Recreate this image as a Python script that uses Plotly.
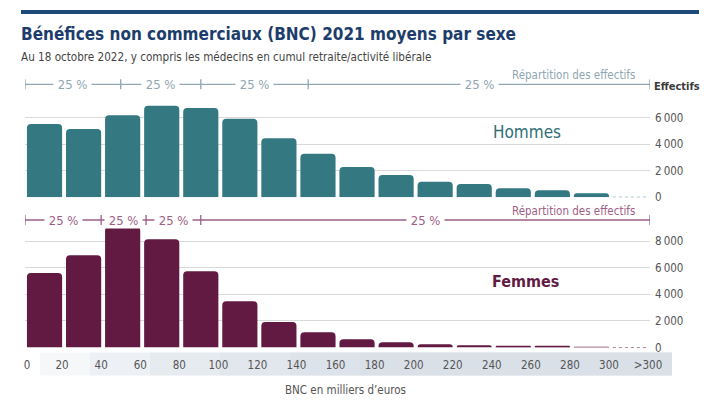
import plotly.graph_objects as go

# ---------------- data ----------------
tranches = ["0", "20", "40", "60", "80", "100", "120", "140", "160", "180",
            "200", "220", "240", "260", "280", "300", ">300"]
bin_centers = [10, 30, 50, 70, 90, 110, 130, 150, 170, 190, 210, 230, 250, 270, 290, 310]
hommes = [5530, 5150, 6190, 6890, 6720, 5910, 4450, 3290, 2290, 1680, 1180, 1000, 680, 530, 300, None]
femmes = [5600, 6930, 9080, 8140, 5730, 3470, 1920, 1140, 620, 400, 240, 160, 110, 80, 60, None]
tick_positions = [1, 19, 39, 59, 79, 99, 119, 139, 159, 179, 199, 219, 239, 259, 279, 299, 319]
# quartile limits (k€) of the distribution of headcounts
quartiles_hommes = [0, 49, 90, 145, 320]
quartiles_femmes = [0, 39, 62, 90, 320]

# ---------------- styles ----------------
FONT = "'DejaVu Sans Condensed', 'Liberation Sans Narrow', sans-serif"
TEAL = "#347882"
PURPLE = "#621a42"
GRID = "#d9d9d9"
OFF = 8                      # default page margin of the html body
W, H = 720 - OFF, 403 - OFF
BAR_W = 18

def px_x(p):
    return (p - OFF) / W

def px_y(p):
    return (H - (p - OFF)) / H

x_dom = [px_x(25), px_x(650)]

fig = go.Figure()

fig.add_trace(go.Bar(x=bin_centers, y=hommes, width=BAR_W, marker_color=TEAL,
                     marker_line_width=0, xaxis="x", yaxis="y", showlegend=False,
                     hoverinfo="x+y"))
fig.add_trace(go.Bar(x=bin_centers, y=femmes, width=BAR_W, marker_color=PURPLE,
                     marker_line_width=0, xaxis="x2", yaxis="y2", showlegend=False,
                     hoverinfo="x+y"))

# dotted baseline for the last (>300) bin
last = bin_centers[-1]
fig.add_trace(go.Scatter(x=[last - 10 + 1, last + 10 - 0.5], y=[0, 0], mode="lines",
                         line=dict(color=TEAL, width=1, dash="dot"),
                         xaxis="x", yaxis="y", showlegend=False, hoverinfo="skip"))
fig.add_trace(go.Scatter(x=[last - 10 + 1, last + 10 - 0.5], y=[0, 0], mode="lines",
                         line=dict(color=PURPLE, width=1, dash="dot"),
                         xaxis="x2", yaxis="y2", showlegend=False, hoverinfo="skip"))

shapes = []
annotations = []

def note(x, y, text, size, color, xanchor="center", xref="paper"):
    annotations.append(dict(x=x, y=y, xref=xref, yref="paper", text=text,
                            showarrow=False, xanchor=xanchor, yanchor="middle",
                            font=dict(family=FONT, size=size, color=color)))

# top navy rule
shapes.append(dict(type="line", xref="paper", yref="paper",
                   x0=px_x(21), x1=px_x(699), y0=px_y(12), y1=px_y(12),
                   line=dict(color="#1e4a78", width=4)))

# gradient band behind x tick labels
band_starts = [40, 90, 150, 220, 290, 360]
for s in band_starts:
    shapes.append(dict(type="rect", xref="paper", yref="paper",
                       x0=px_x(s), x1=px_x(672), y0=px_y(375.5), y1=px_y(352.5),
                       fillcolor="#cfd9e2", opacity=0.2, line_width=0, layer="below"))

# quartile brackets
def bracket(qs, ypx, color, xref):
    y = px_y(ypx)
    dy = 5 / H
    shapes.append(dict(type="line", xref=xref, yref="paper", x0=qs[0], x1=qs[-1],
                       y0=y, y1=y, line=dict(color=color, width=1.3)))
    for q in qs:
        shapes.append(dict(type="line", xref=xref, yref="paper", x0=q, x1=q,
                           y0=y - dy, y1=y + dy, line=dict(color=color, width=1.3)))
    for a, b in zip(qs[:-1], qs[1:]):
        annotations.append(dict(x=(a + b) / 2, y=y, xref=xref, yref="paper",
                                text="\u00a025 %\u00a0", showarrow=False, bgcolor="white",
                                borderpad=0, xanchor="center", yanchor="middle",
                                font=dict(family=FONT, size=13, color=color)))

bracket(quartiles_hommes, 84.3, "#8fa6b3", "x")
bracket(quartiles_femmes, 220, "#9e5f87", "x2")

note(px_x(573), px_y(75), "Répartition des effectifs", 11.5, "#8fa6b3")
note(px_x(573), px_y(210.5), "Répartition des effectifs", 11.5, "#9e5f87")
note(px_x(652), px_y(86), "<b>Effectifs</b>", 11, "#3a3a3a", xanchor="left")

# titles
note(px_x(19), px_y(34), "<b>Bénéfices non commerciaux (BNC) 2021 moyens par sexe</b>",
     17, "#1c3d6b", xanchor="left")
note(px_x(19), px_y(57),
     "Au 18 octobre 2022, y compris les médecins en cumul retraite/activité libérale",
     11.6, "#444444", xanchor="left")

note(px_x(527), px_y(132), "Hommes", 17, "#2e6f79")
note(px_x(525), px_y(282), "<b>Femmes</b>", 16, PURPLE)
note(px_x(345), px_y(390), "BNC en milliers d’euros", 11.5, "#555555")

ytick_font = dict(family=FONT, size=11.5, color="#555555")

fig.update_layout(
    width=W, height=H,
    margin=dict(l=0, r=0, t=0, b=0, autoexpand=False),
    paper_bgcolor="white", plot_bgcolor="white",
    barcornerradius=4,
    font=dict(family=FONT),
    xaxis=dict(domain=x_dom, range=[0, 320], anchor="y", showticklabels=False,
               showgrid=False, zeroline=False, showline=False, ticks="",
               automargin=False),
    yaxis=dict(domain=[px_y(197.3), px_y(104.4)], range=[0, 7000], side="right",
               anchor="x", tickvals=[0, 2000, 4000, 6000],
               ticktext=["0", "2\u2009000", "4\u2009000", "6\u2009000"],
               showgrid=True, gridcolor=GRID, gridwidth=1.2,
               zeroline=True, zerolinecolor="white", showline=False,
               tickfont=ytick_font, ticklabelstandoff=4, automargin=False),
    xaxis2=dict(domain=x_dom, range=[0, 320], anchor="y2", matches="x",
                tickvals=tick_positions, ticktext=tranches,
                tickfont=dict(family=FONT, size=11.5, color="#555555"),
                showgrid=False, zeroline=False, showline=False, ticks="",
                ticklabelstandoff=9, automargin=False),
    yaxis2=dict(domain=[px_y(347.5), px_y(223.7)], range=[0, 9300], side="right",
                anchor="x2", tickvals=[0, 2000, 4000, 6000, 8000],
                ticktext=["0", "2\u2009000", "4\u2009000", "6\u2009000", "8\u2009000"],
                showgrid=True, gridcolor=GRID, gridwidth=1.2,
                zeroline=True, zerolinecolor="white", showline=False,
                tickfont=ytick_font, ticklabelstandoff=4, automargin=False),
    shapes=shapes,
    annotations=annotations,
)

fig.write_html("out.html")
